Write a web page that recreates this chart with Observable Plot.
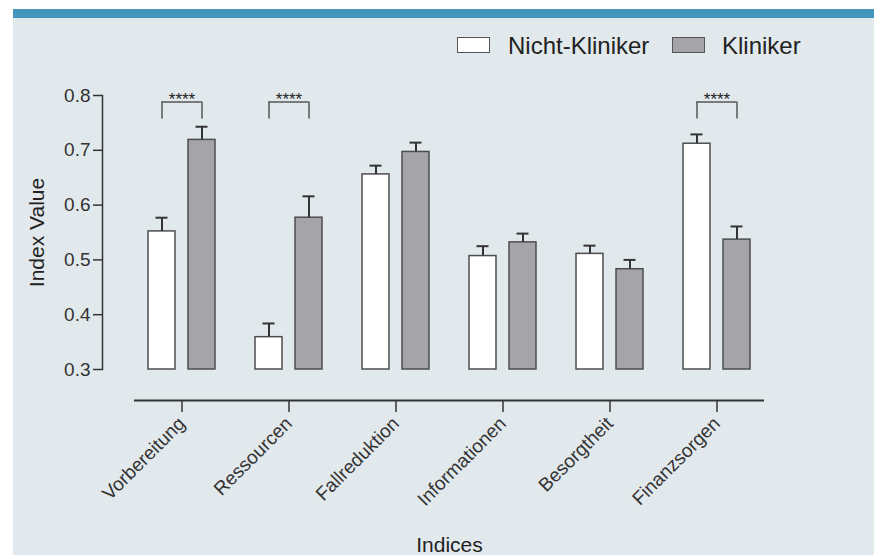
<!DOCTYPE html>
<html>
<head>
<meta charset="utf-8">
<script src="https://cdn.jsdelivr.net/npm/d3@7"></script>
<script src="https://cdn.jsdelivr.net/npm/@observablehq/plot@0.6"></script>
<style>
  html, body { margin: 0; padding: 0; background: #ffffff; }
  #page { position: relative; width: 874px; height: 555px; overflow: hidden; font-family: "Liberation Sans", Arial, sans-serif; }
  #band { position: absolute; left: 13px; top: 9px; right: 0; height: 9px; background: #4596bd; }
  #panel { position: absolute; left: 13px; top: 18px; right: 0; bottom: 0; background: #e2e9ed; }
  #chart { position: absolute; left: 0; top: 0; }
  .lg-box { position: absolute; top: 37px; width: 31px; height: 14px; border: 1.5px solid #555; }
  .lg-text { position: absolute; top: 34px; font-size: 24px; line-height: 24px; color: #222; white-space: nowrap; }
</style>
</head>
<body>
<div id="page">
  <div id="band"></div>
  <div id="panel"></div>
  <div id="chart"></div>
  <div id="legend"></div>
</div>
<script>
// ---- data ----
const categories = ["Vorbereitung", "Ressourcen", "Fallreduktion", "Informationen", "Besorgtheit", "Finanzsorgen"];
const groups = ["Nicht-Kliniker", "Kliniker"];
const nichtKliniker = [0.552, 0.359, 0.656, 0.507, 0.511, 0.712];
const nichtKlinikerErr = [0.025, 0.025, 0.016, 0.018, 0.015, 0.017];
const kliniker = [0.719, 0.577, 0.697, 0.532, 0.483, 0.537];
const klinikerErr = [0.024, 0.039, 0.017, 0.016, 0.017, 0.024];
const significant = ["Vorbereitung", "Ressourcen", "Finanzsorgen"];
const sigLabel = "****";
const yTicks = [0.3, 0.4, 0.5, 0.6, 0.7, 0.8];
const yBase = 0.3;
const bracketTop = 0.788;
const bracketBottom = 0.757;
const xTitle = "Indices";
const yTitle = "Index Value";

const fills = {"Nicht-Kliniker": "#ffffff", "Kliniker": "#a5a4a9"};

const rowsNK = categories.map((c, i) => ({category: c, group: groups[0], value: nichtKliniker[i], top: nichtKliniker[i] + nichtKlinikerErr[i]}));
const rowsK = categories.map((c, i) => ({category: c, group: groups[1], value: kliniker[i], top: kliniker[i] + klinikerErr[i]}));
const sigRows = significant.map(c => ({category: c}));

// layout
const W = 874, H = 555;
const mTop = 95, mLeft = 102, mRight = 110, mBottom = 155;
const frameH = (H - mBottom - mTop);
// y domain extends below 0.3 so the x axis sits below the bars (gap as in reference)
const gapPx = 31;
const unitPx = (frameH - gapPx) / (0.8 - 0.3);
const yMin = 0.3 - gapPx / unitPx;

const barInset = 40, capInset = 47.5, off = 20;

function groupMarks(rows, dx, fill) {
  return [
    Plot.barY(rows, {x: "category", y1: yBase, y2: "value", fill, stroke: "#4d4d4d", strokeWidth: 1.5, insetLeft: barInset, insetRight: barInset, dx}),
    Plot.ruleX(rows, {x: "category", y1: "value", y2: "top", stroke: "#333", strokeWidth: 2, dx}),
    Plot.tickY(rows, {x: "category", y: "top", stroke: "#333", strokeWidth: 2, insetLeft: capInset, insetRight: capInset, dx})
  ];
}

const chart = Plot.plot({
  width: W,
  height: H,
  marginTop: mTop,
  marginLeft: mLeft,
  marginRight: mRight,
  marginBottom: mBottom,
  style: {background: "transparent", fontFamily: "'Liberation Sans', Arial, sans-serif", fontSize: "18px", color: "#333"},
  x: {domain: categories, range: [127.5, 769.5], padding: 0},
  y: {domain: [yMin, 0.8]},
  marks: [
    Plot.frame({anchor: "left", insetBottom: gapPx, stroke: "#333", strokeWidth: 1.5}),
    Plot.ruleY([yMin], {insetLeft: 32, stroke: "#333", strokeWidth: 2}),
    Plot.axisY({ticks: yTicks, tickFormat: ".1f", tickSize: 9, tickPadding: 3, fontSize: 19, label: null, strokeWidth: 1.5}),
    Plot.axisX({tickSize: 12, tickRotate: -45, tickPadding: 8, fontSize: 19, label: null, strokeWidth: 1.5}),
    ...groupMarks(rowsNK, -off, fills[groups[0]]),
    ...groupMarks(rowsK, off, fills[groups[1]]),
    Plot.tickY(sigRows, {x: "category", y: bracketTop, stroke: "#555", strokeWidth: 1.5, insetLeft: 33.5, insetRight: 33.5}),
    Plot.ruleX(sigRows, {x: "category", y1: bracketBottom, y2: bracketTop, stroke: "#555", strokeWidth: 1.5, dx: -off}),
    Plot.ruleX(sigRows, {x: "category", y1: bracketBottom, y2: bracketTop, stroke: "#555", strokeWidth: 1.5, dx: off}),
    Plot.text(sigRows, {x: "category", y: bracketTop, text: () => sigLabel, fontSize: 17, dy: -3, fill: "#222"}),
    Plot.text([yTitle], {frameAnchor: "left", y: () => 0.55, text: d => d, rotate: -90, textAnchor: "middle", lineAnchor: "middle", dx: -65, fontSize: 21, fill: "#222"}),
    Plot.text([xTitle], {frameAnchor: "bottom", text: d => d, textAnchor: "middle", lineAnchor: "middle", dx: 16, dy: 145, fontSize: 21, fill: "#222"})
  ]
});
document.getElementById("chart").appendChild(chart);

// legend
const legend = document.getElementById("legend");
const legendItems = [
  {label: groups[0], boxLeft: 457, textLeft: 508},
  {label: groups[1], boxLeft: 672, textLeft: 722}
];
legendItems.forEach(it => {
  const box = document.createElement("div");
  box.className = "lg-box";
  box.style.left = it.boxLeft + "px";
  box.style.background = fills[it.label];
  legend.appendChild(box);
  const t = document.createElement("div");
  t.className = "lg-text";
  t.style.left = it.textLeft + "px";
  t.textContent = it.label;
  legend.appendChild(t);
});
</script>
</body>
</html>
